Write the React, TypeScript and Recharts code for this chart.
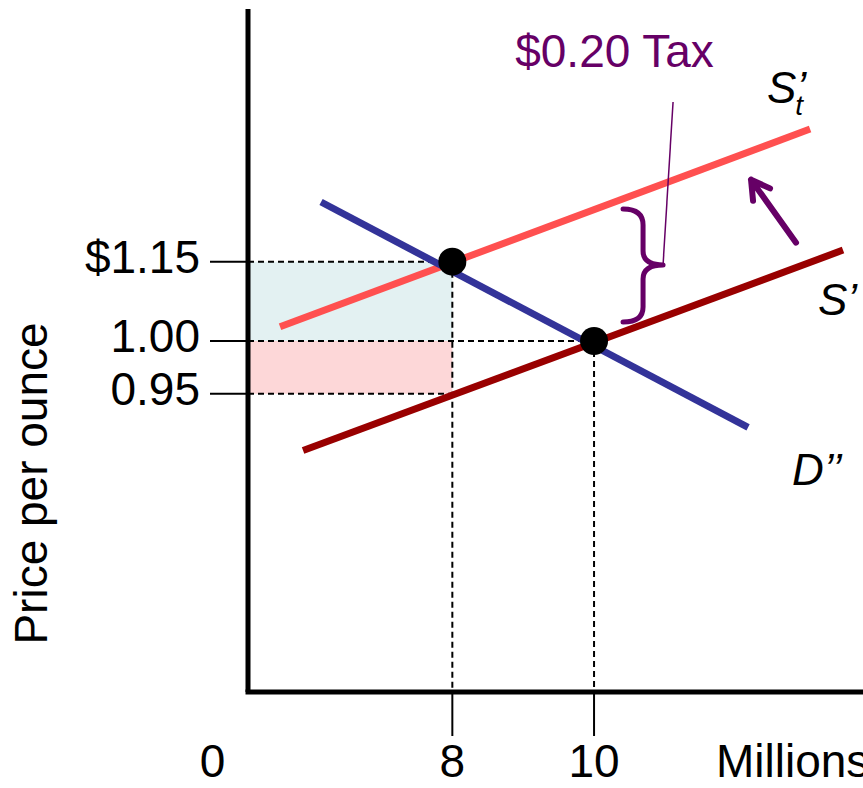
import React from 'react';
import {
  ComposedChart,
  Line,
  XAxis,
  YAxis,
  ReferenceArea,
  ReferenceLine,
  ReferenceDot,
  Label,
} from 'recharts';

// ---- Axis ticks -----------------------------------------------------------
const QUANTITY_TICKS = [8, 10];
const QUANTITY_TICK_LABELS = ['8', '10'];
const ORIGIN_LABEL = '0';
const QUANTITY_TITLE = 'Millions';

const PRICE_TICKS = [0.95, 1.0, 1.15];
const PRICE_TICK_LABELS = ['0.95', '1.00', '$1.15'];
const PRICE_TITLE = 'Price per ounce';

// ---- Curves (quantity in millions, price in $ per ounce) -----------------
const demandQ = [6.147, 12.174];
const demandP = [1.263, 0.918];

const taxedSupplyQ = [5.568, 13.049];
const taxedSupplyP = [1.027, 1.401];

const supplyQ = [5.893, 13.514];
const supplyP = [0.896, 1.172];

// ---- Equilibria and tax wedge ----------------------------------------------
const equilibriumQ = [8, 10]; // with tax, without tax
const equilibriumP = [1.15, 1.0];
const sellerPrice = 0.95;
const TAX_TEXT = '$0.20 Tax';

// brace tip and leader-line top, arrow tail for the supply shift
const leaderQ = [10.974, 11.115];
const leaderP = [1.144, 1.452];
const shiftArrowQ = 12.851;
const shiftArrowP = 1.186;

const toPoints = (qs: number[], ps: number[]) => qs.map((q, i) => ({ q, p: ps[i] }));
const demand = toPoints(demandQ, demandP);
const taxedSupply = toPoints(taxedSupplyQ, taxedSupplyP);
const supply = toPoints(supplyQ, supplyP);
const equilibria = toPoints(equilibriumQ, equilibriumP);

// ---- Layout / style --------------------------------------------------------
const W = 863;
const H = 788;
const X_DOMAIN: [number, number] = [5.116, 13.796];
const Y_DOMAIN: [number, number] = [0.667, 1.628];
const FONT = '"Liberation Sans", Arial, Helvetica, sans-serif';
const PURPLE = '#660066';
const BLUE = '#333399';
const CORAL = '#FF5050';
const DARK_RED = '#990000';

// The price axis of this textbook diagram is drawn schematically: each gap
// between labelled prices has its own spacing. A piecewise-linear scale keeps
// the labelled prices at their places on the axis.
const PRICE_AXIS_FRACTIONS = [0.4368, 0.5139, 0.63];

function makePiecewiseScale(knots: number[], fractions: number[]): any {
  let dom: number[] = [0, 1];
  let rng: number[] = [0, 1];
  const seg = (v: number) => {
    let i = 0;
    while (i < knots.length - 2 && v > knots[i + 1]) i++;
    return i;
  };
  const toFrac = (v: number) => {
    const i = seg(v);
    const v0 = knots[i];
    const v1 = knots[i + 1];
    const f0 = fractions[i];
    const f1 = fractions[i + 1];
    return f0 + ((v - v0) * (f1 - f0)) / (v1 - v0);
  };
  const fromFrac = (f: number) => {
    let i = 0;
    while (i < fractions.length - 2 && f > fractions[i + 1]) i++;
    const v0 = knots[i];
    const v1 = knots[i + 1];
    const f0 = fractions[i];
    const f1 = fractions[i + 1];
    return v0 + ((f - f0) * (v1 - v0)) / (f1 - f0);
  };
  const scale: any = (v: any) => {
    const n = Number(v);
    if (!Number.isFinite(n)) return undefined;
    const r0 = rng[0];
    const r1 = rng[rng.length - 1];
    return r0 + toFrac(n) * (r1 - r0);
  };
  scale.domain = (...args: any[]) => {
    if (args.length === 0) return dom.slice();
    dom = Array.from(args[0]).map(Number);
    return scale;
  };
  scale.range = (...args: any[]) => {
    if (args.length === 0) return rng.slice();
    rng = Array.from(args[0]).map(Number);
    return scale;
  };
  scale.invert = (px: number) => {
    const r0 = rng[0];
    const r1 = rng[rng.length - 1];
    return fromFrac((px - r0) / (r1 - r0));
  };
  scale.ticks = () => knots.slice();
  scale.tickFormat = () => (d: any) => String(d);
  scale.clamp = () => scale;
  scale.nice = () => scale;
  scale.copy = () => makePiecewiseScale(knots, fractions).domain(dom).range(rng);
  return scale;
}

const priceScale = makePiecewiseScale(PRICE_TICKS, PRICE_AXIS_FRACTIONS);

// ---- Custom renderers --------------------------------------------------------
const PriceTick = (props: any) => {
  const { x, y, payload } = props;
  const i = PRICE_TICKS.indexOf(payload.value);
  return (
    <text x={x} y={y} dy={11} textAnchor="end" fontSize={46} fontFamily={FONT} fill="#000">
      {i >= 0 ? PRICE_TICK_LABELS[i] : String(payload.value)}
    </text>
  );
};

const QuantityTick = (props: any) => {
  const { x, y, payload } = props;
  const i = QUANTITY_TICKS.indexOf(payload.value);
  return (
    <text x={x} y={y} dy={41} textAnchor="middle" fontSize={46} fontFamily={FONT} fill="#000">
      {i >= 0 ? QUANTITY_TICK_LABELS[i] : String(payload.value)}
    </text>
  );
};

const QuantityAxisLabels = (props: any) => {
  const vb = props.viewBox || { x: 248, y: 692, width: 615, height: 96 };
  return (
    <g>
      <text x={vb.x - 35.5} y={vb.y + 85} textAnchor="middle" fontSize={46} fontFamily={FONT} fill="#000">
        {ORIGIN_LABEL}
      </text>
      <text x={vb.x + 468} y={vb.y + 85} textAnchor="start" fontSize={46} fontFamily={FONT} fill="#000">
        {QUANTITY_TITLE}
      </text>
    </g>
  );
};

const PriceAxisLabel = (props: any) => {
  const vb = props.viewBox || { x: 0, y: 9, width: 248, height: 683 };
  const x = vb.x + 47;
  const y = vb.y + 474.5;
  return (
    <text
      x={x}
      y={y}
      transform={`rotate(-90, ${x}, ${y})`}
      textAnchor="middle"
      fontSize={46}
      fontFamily={FONT}
      fill="#000"
    >
      {PRICE_TITLE}
    </text>
  );
};

const Brace = (p: any) => {
  const { cx, cy } = p;
  const d = [
    `M ${cx - 40} ${cy - 56}`,
    `Q ${cx - 20} ${cy - 56} ${cx - 20} ${cy - 40}`,
    `L ${cx - 20} ${cy - 14}`,
    `Q ${cx - 20} ${cy} ${cx} ${cy}`,
    `Q ${cx - 20} ${cy} ${cx - 20} ${cy + 14}`,
    `L ${cx - 20} ${cy + 42}`,
    `Q ${cx - 20} ${cy + 57} ${cx - 40} ${cy + 57}`,
  ].join(' ');
  return <path d={d} fill="none" stroke={PURPLE} strokeWidth={5} strokeLinecap="round" strokeLinejoin="round" />;
};

const TaxText = (p: any) => (
  <text x={p.cx - 58.5} y={p.cy - 35} textAnchor="middle" fontSize={46} fontFamily={FONT} fill={PURPLE}>
    {TAX_TEXT}
  </text>
);

const ShiftArrow = (p: any) => {
  const { cx, cy } = p;
  const tx = cx - 45;
  const ty = cy - 63;
  return (
    <path
      d={`M ${cx} ${cy} L ${tx} ${ty} M ${tx + 19} ${ty + 8.7} L ${tx} ${ty} L ${tx + 2} ${ty + 21}`}
      fill="none"
      stroke={PURPLE}
      strokeWidth={6}
      strokeLinecap="round"
      strokeLinejoin="round"
    />
  );
};

// S with a prime and a subscript t set beneath the prime
const TaxedSupplyName = (p: any) => (
  <text x={p.cx - 43} y={p.cy - 26} fontSize={44} fontFamily={FONT} fontStyle="italic" fill="#000">
    {'S\u2019'}
    <tspan dx={-11} dy={12} fontSize={28}>
      t
    </tspan>
  </text>
);

const SupplyName = (p: any) => (
  <text x={p.cx - 25} y={p.cy + 65} fontSize={44} fontFamily={FONT} fontStyle="italic" fill="#000">
    {'S\u2019'}
  </text>
);

const DemandName = (p: any) => (
  <text x={p.cx + 44} y={p.cy + 58} fontSize={44} fontFamily={FONT} fontStyle="italic" fill="#000">
    {'D\u2019\u2019'}
  </text>
);

const dashed = { stroke: '#000', strokeWidth: 2, strokeDasharray: '6 4' };

export default function App() {
  const [withTax, noTax] = equilibria;
  const last = (arr: { q: number; p: number }[]) => arr[arr.length - 1];
  return (
    <div style={{ position: 'absolute', left: 0, top: 0, background: '#fff' }}>
      <ComposedChart width={W} height={H} margin={{ top: 9, right: 0, bottom: 0, left: 0 }}>
        <XAxis
          type="number"
          dataKey="q"
          domain={X_DOMAIN}
          allowDataOverflow
          ticks={QUANTITY_TICKS}
          interval={0}
          height={96}
          stroke="#000"
          axisLine={{ stroke: '#000', strokeWidth: 5, strokeLinecap: 'square' }}
          tickLine={{ stroke: '#000', strokeWidth: 2 }}
          tickSize={44}
          tickMargin={0}
          tick={<QuantityTick />}
          label={<Label content={<QuantityAxisLabels />} />}
        />
        <YAxis
          type="number"
          domain={Y_DOMAIN}
          allowDataOverflow
          scale={priceScale}
          ticks={PRICE_TICKS}
          interval={0}
          width={248}
          stroke="#000"
          axisLine={{ stroke: '#000', strokeWidth: 5 }}
          tickLine={{ stroke: '#000', strokeWidth: 2 }}
          tickSize={38}
          tickMargin={10}
          tick={<PriceTick />}
          label={<Label content={<PriceAxisLabel />} />}
        />

        {/* burden of the tax: buyers (blue) and sellers (pink) */}
        <ReferenceArea
          x1={X_DOMAIN[0]}
          x2={withTax.q}
          y1={noTax.p}
          y2={withTax.p}
          fill="#E3F1F2"
          fillOpacity={1}
          stroke="none"
          ifOverflow="visible"
        />
        <ReferenceArea
          x1={X_DOMAIN[0]}
          x2={withTax.q}
          y1={sellerPrice}
          y2={noTax.p}
          fill="#FDD7D8"
          fillOpacity={1}
          stroke="none"
          ifOverflow="visible"
        />

        {/* guide lines */}
        <ReferenceLine segment={[{ x: X_DOMAIN[0], y: withTax.p }, { x: withTax.q, y: withTax.p }]} {...dashed} ifOverflow="visible" />
        <ReferenceLine segment={[{ x: X_DOMAIN[0], y: noTax.p }, { x: noTax.q, y: noTax.p }]} {...dashed} ifOverflow="visible" />
        <ReferenceLine segment={[{ x: X_DOMAIN[0], y: sellerPrice }, { x: withTax.q, y: sellerPrice }]} {...dashed} ifOverflow="visible" />
        <ReferenceLine segment={[{ x: withTax.q, y: withTax.p }, { x: withTax.q, y: Y_DOMAIN[0] }]} {...dashed} ifOverflow="visible" />
        <ReferenceLine segment={[{ x: noTax.q, y: noTax.p }, { x: noTax.q, y: Y_DOMAIN[0] }]} {...dashed} ifOverflow="visible" />

        <Line data={supply} dataKey="p" type="linear" stroke={DARK_RED} strokeWidth={7} dot={false} activeDot={false} isAnimationActive={false} />
        <Line data={taxedSupply} dataKey="p" type="linear" stroke={CORAL} strokeWidth={7} dot={false} activeDot={false} isAnimationActive={false} />
        <Line data={demand} dataKey="p" type="linear" stroke={BLUE} strokeWidth={7} dot={false} activeDot={false} isAnimationActive={false} />

        {/* tax annotation */}
        <ReferenceLine
          segment={[{ x: leaderQ[0], y: leaderP[0] }, { x: leaderQ[1], y: leaderP[1] }]}
          stroke={PURPLE}
          strokeWidth={1.5}
          ifOverflow="visible"
        />
        <ReferenceDot x={leaderQ[0]} y={leaderP[0]} r={1} ifOverflow="visible" shape={Brace} />
        <ReferenceDot x={leaderQ[1]} y={leaderP[1]} r={1} ifOverflow="visible" shape={TaxText} />
        <ReferenceDot x={shiftArrowQ} y={shiftArrowP} r={1} ifOverflow="visible" shape={ShiftArrow} />

        {/* curve names */}
        <ReferenceDot x={last(taxedSupply).q} y={last(taxedSupply).p} r={1} ifOverflow="visible" shape={TaxedSupplyName} />
        <ReferenceDot x={last(supply).q} y={last(supply).p} r={1} ifOverflow="visible" shape={SupplyName} />
        <ReferenceDot x={last(demand).q} y={last(demand).p} r={1} ifOverflow="visible" shape={DemandName} />

        {/* equilibrium points */}
        {equilibria.map((e) => (
          <ReferenceDot key={e.q} x={e.q} y={e.p} r={14} fill="#000" stroke="none" ifOverflow="visible" />
        ))}
      </ComposedChart>
    </div>
  );
}
